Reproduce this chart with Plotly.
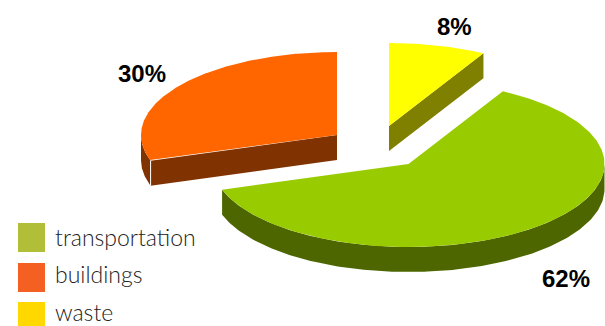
import numpy as np
import plotly.graph_objects as go

# Emission shares, in clockwise order from twelve o'clock
categories = ["waste", "transportation", "buildings"]
shares = [8, 62, 30]

# Legend order and swatch colours
legend_labels = ["transportation", "buildings", "waste"]
legend_colors = ["#B0BF37", "#F36021", "#FFD800"]
legend_boxes = [(223, 252), (263, 292), (302, 326)]
legend_text_y = [237, 274, 312]

# Per-slice appearance
top_colors = {"waste": "#FFFF00", "transportation": "#99CC00", "buildings": "#FF6600"}
side_colors = {"waste": "#808000", "transportation": "#4D6600", "buildings": "#803300"}
anchors = {"waste": (389, 126), "transportation": (408.5, 164), "buildings": (337, 135)}
label_pos = {"waste": (454, 26), "transportation": (566, 278), "buildings": (142, 73)}

RX, RY, DEPTH = 196.0, 83.0, 25.0


def ellipse(cx, cy, t):
    return cx + RX * np.cos(t), cy + RY * np.sin(t)


fig = go.Figure()


def add_poly(x, y, color):
    fig.add_trace(go.Scatter(
        x=list(x), y=list(y), mode="lines", fill="toself", fillcolor=color,
        line=dict(width=0, color=color), hoverinfo="skip", showlegend=False,
    ))


start = -np.pi / 2
for name, share in zip(categories, shares):
    end = start + 2 * np.pi * share / sum(shares)
    cx, cy = anchors[name]
    t = np.linspace(start, end, 240)
    ax, ay = ellipse(cx, cy, t)

    # Outer wall: only the part of the rim facing the viewer
    front = t[np.sin(t) > 0]
    if front.size:
        wx, wy = ellipse(cx, cy, front)
        add_poly(np.r_[wx, wx[::-1]], np.r_[wy, wy[::-1] + DEPTH], side_colors[name])

    # Cut face, visible when the slice's trailing or leading edge faces forward
    if name == "waste":
        ex, ey = ellipse(cx, cy, end)
        add_poly([cx, ex, ex, cx], [cy, ey, ey + DEPTH, cy + DEPTH], side_colors[name])
    if name == "buildings":
        ex, ey = ellipse(cx, cy, start)
        add_poly([cx, ex, ex, cx], [cy, ey, ey + DEPTH, cy + DEPTH], side_colors[name])
        fig.add_trace(go.Scatter(
            x=[ex, ex], y=[ey, ey + DEPTH], mode="lines",
            line=dict(width=1, color="#FFFFFF"), hoverinfo="skip", showlegend=False,
        ))

    # Top face
    add_poly(np.r_[cx, ax, cx], np.r_[cy, ay, cy], top_colors[name])

    lx, ly = label_pos[name]
    fig.add_annotation(
        x=lx, y=ly, text=f"<b>{share}%</b>", showarrow=False,
        font=dict(family="Liberation Sans", size=24, color="#000000"),
    )
    start = end

# Legend drawn by hand so the swatches can be large and rectangular
for label, color, (y0, y1), ty in zip(legend_labels, legend_colors, legend_boxes, legend_text_y):
    fig.add_shape(type="rect", x0=18, x1=45, y0=y0, y1=y1,
                  fillcolor=color, line=dict(width=0), layer="below")
    fig.add_annotation(
        x=54, y=ty, text=label, showarrow=False, xanchor="left", borderpad=0,
        font=dict(family="Lato", size=23, color="#222222", weight=300),
    )

fig.update_layout(
    width=605, height=326, margin=dict(l=0, r=0, t=0, b=0),
    paper_bgcolor="#FFFFFF", plot_bgcolor="#FFFFFF", showlegend=False,
    xaxis=dict(range=[0, 605], visible=False, fixedrange=True),
    yaxis=dict(range=[326, 0], visible=False, fixedrange=True),
)
fig.write_html("out.html", config={"displayModeBar": False})
